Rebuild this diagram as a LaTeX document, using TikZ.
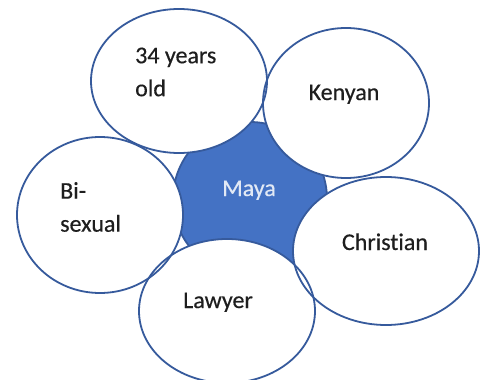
\documentclass[tikz,border=0pt]{standalone}
\usepackage{fontspec}
\setmainfont{Carlito}[Ligatures=NoCommon]
\definecolor{core}{HTML}{4472C4}
\definecolor{rim}{HTML}{365A9C}
\definecolor{ink}{HTML}{1E1E1E}
\definecolor{pale}{HTML}{E2E9F5}
\begin{document}
\begin{tikzpicture}[x=1pt, y=-1pt, font=\fontsize{24}{33}\selectfont\addfontfeatures{FakeBold=0.4}, rim/.style = {draw=rim, line width=1.8pt}, txt/.style = {text=ink, align=left, inner sep=0pt}]
    \useasboundingbox (0,0) rectangle (483,380);
    % centre
    \filldraw[fill=core, rim] (250,199) circle[radius=77];
    % petals: first the white fill, then all the rims
    \foreach \cx/\cy/\rx/\ry in {179/81/88/72, 346/103/83/75, 100/215/83/78, 386/251/93/74, 227/311/88/72}
        \fill[white] (\cx,\cy) ellipse[x radius=\rx, y radius=\ry];
    \foreach \cx/\cy/\rx/\ry in {179/81/88/72, 346/103/83/75, 100/215/83/78, 386/251/93/74, 227/311/88/72}
        \draw[rim] (\cx,\cy) ellipse[x radius=\rx, y radius=\ry];
    \node[txt, text=pale, anchor=base] (maya) at (249,196) {Maya};
    \node[txt, anchor=west] (age) at (135,72) {34 years\\old};
    \node[txt, anchor=base] (kenyan) at (344,100) {Kenyan};
    \node[txt, anchor=west] (bisexual) at (60,207) {Bi-\\sexual};
    \node[txt, anchor=base] (christian) at (385,250) {Christian};
    \node[txt, anchor=base] (lawyer) at (218,308) {Lawyer};
\end{tikzpicture}
\end{document}
